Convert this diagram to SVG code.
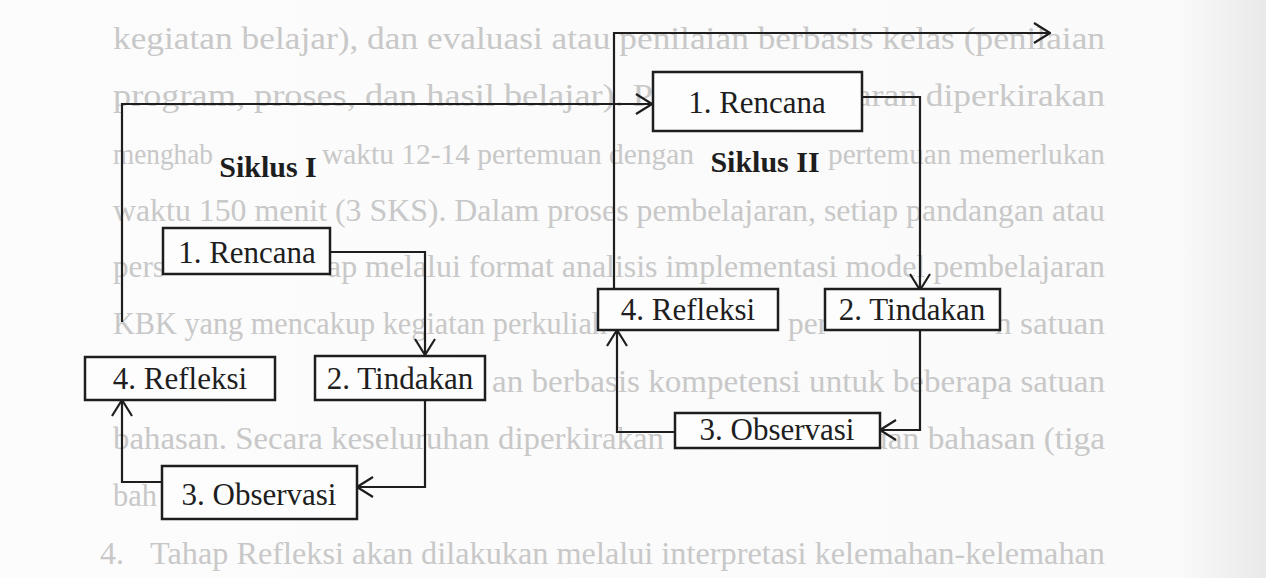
<svg xmlns="http://www.w3.org/2000/svg" width="1266" height="578" viewBox="0 0 1266 578">
<style>
.bg{font-family:"Liberation Serif","Times New Roman",serif;font-size:32px;fill:#c8c8c8}
.sm{font-size:29px}
.box{fill:#fdfdfd;stroke:#1e1e1e;stroke-width:2.5}
.lbl{font-family:"Liberation Serif","Times New Roman",serif;font-size:31px;fill:#1e1e1e;text-anchor:middle}
.title{font-family:"Liberation Serif","Times New Roman",serif;font-size:30px;font-weight:bold;fill:#1e1e1e;text-anchor:middle}
.con{fill:none;stroke:#1e1e1e;stroke-width:2.2;marker-end:url(#arr)}
</style>
<defs>
<marker id="arr" viewBox="0 0 18 22" refX="17" refY="11" markerWidth="18" markerHeight="22" markerUnits="userSpaceOnUse" orient="auto">
<path d="M1,1 L17,11 L1,21" fill="none" stroke="#1e1e1e" stroke-width="2.2"/>
</marker>
<linearGradient id="edge" x1="0" y1="0" x2="1" y2="0">
<stop offset="0" stop-color="#fcfcfc"/>
<stop offset="0.93" stop-color="#fafafa"/>
<stop offset="1" stop-color="#e9e9e9"/>
</linearGradient>
</defs>
<rect x="0" y="0" width="1266" height="578" fill="url(#edge)"/>
<g id="page-text">
<text class="bg" x="113" y="49" textLength="992" lengthAdjust="spacingAndGlyphs">kegiatan belajar), dan evaluasi atau penilaian berbasis kelas (penilaian</text>
<text class="bg" x="113" y="106" textLength="540" lengthAdjust="spacingAndGlyphs">program, proses, dan hasil belajar). P</text>
<text class="bg" x="846" y="106" textLength="259" lengthAdjust="spacingAndGlyphs">jaran diperkirakan</text>
<text class="bg sm" x="113" y="164" textLength="100" lengthAdjust="spacingAndGlyphs">menghab</text>
<text class="bg sm" x="322" y="164" textLength="372" lengthAdjust="spacingAndGlyphs">waktu 12-14 pertemuan dengan</text>
<text class="bg sm" x="828" y="164" textLength="277" lengthAdjust="spacingAndGlyphs">pertemuan memerlukan</text>
<text class="bg" x="113" y="221" textLength="992" lengthAdjust="spacingAndGlyphs">waktu 150 menit (3 SKS). Dalam proses pembelajaran, setiap pandangan atau</text>
<text class="bg" x="113" y="277" textLength="52" lengthAdjust="spacingAndGlyphs">pers</text>
<text class="bg" x="327" y="277" textLength="778" lengthAdjust="spacingAndGlyphs">ap melalui format analisis implementasi model pembelajaran</text>
<text class="bg" x="113" y="334" textLength="494" lengthAdjust="spacingAndGlyphs">KBK yang mencakup kegiatan perkuliah</text>
<text class="bg" x="788" y="334" textLength="40" lengthAdjust="spacingAndGlyphs">per</text>
<text class="bg" x="995" y="334" textLength="110" lengthAdjust="spacingAndGlyphs">n satuan</text>
<text class="bg" x="492" y="392" textLength="613" lengthAdjust="spacingAndGlyphs">an berbasis kompetensi  untuk beberapa satuan</text>
<text class="bg" x="113" y="449" textLength="551" lengthAdjust="spacingAndGlyphs">bahasan. Secara keseluruhan diperkirakan</text>
<text class="bg" x="871" y="449" textLength="234" lengthAdjust="spacingAndGlyphs">uan bahasan (tiga</text>
<text class="bg" x="113" y="506" textLength="44" lengthAdjust="spacingAndGlyphs">bah</text>
<text class="bg" x="100" y="564">4.</text>
<text class="bg" x="150" y="564" textLength="955" lengthAdjust="spacingAndGlyphs">Tahap Refleksi akan dilakukan melalui interpretasi kelemahan-kelemahan</text>
</g>
<g id="connectors">
<path class="con" d="M330,252 H425 V355"/>
<path class="con" d="M425,400 V487 H357"/>
<path class="con" d="M162,482 H122 V400"/>
<path class="con" d="M122,322 V104 H652"/>
<path class="con" d="M862,97 H920 V290"/>
<path class="con" d="M920,330 V430 H880"/>
<path class="con" d="M675,432 H617 V330"/>
<path class="con" d="M614,297 V33 H1050"/>
</g>
<g id="siklus-1-title"><text class="title" x="268" y="177">Siklus I</text></g>
<g id="siklus-2-title"><text class="title" x="765" y="172">Siklus II</text></g>
<g id="s1-rencana"><rect class="box" x="163" y="228" width="167" height="46"/><text class="lbl" x="247" y="263">1. Rencana</text></g>
<g id="s1-tindakan"><rect class="box" x="315" y="356" width="170" height="44"/><text class="lbl" x="400" y="389">2. Tindakan</text></g>
<g id="s1-refleksi"><rect class="box" x="85" y="357" width="190" height="43"/><text class="lbl" x="180" y="389">4. Refleksi</text></g>
<g id="s1-observasi"><rect class="box" x="162" y="466" width="195" height="53"/><text class="lbl" x="259" y="505">3. Observasi</text></g>
<g id="s2-rencana"><rect class="box" x="653" y="72" width="209" height="59"/><text class="lbl" x="757" y="113">1. Rencana</text></g>
<g id="s2-tindakan"><rect class="box" x="825" y="289" width="175" height="41"/><text class="lbl" x="912" y="320">2. Tindakan</text></g>
<g id="s2-refleksi"><rect class="box" x="598" y="289" width="180" height="41"/><text class="lbl" x="688" y="320">4. Refleksi</text></g>
<g id="s2-observasi"><rect class="box" x="675" y="413" width="205" height="35"/><text class="lbl" x="777" y="440">3. Observasi</text></g>
</svg>
